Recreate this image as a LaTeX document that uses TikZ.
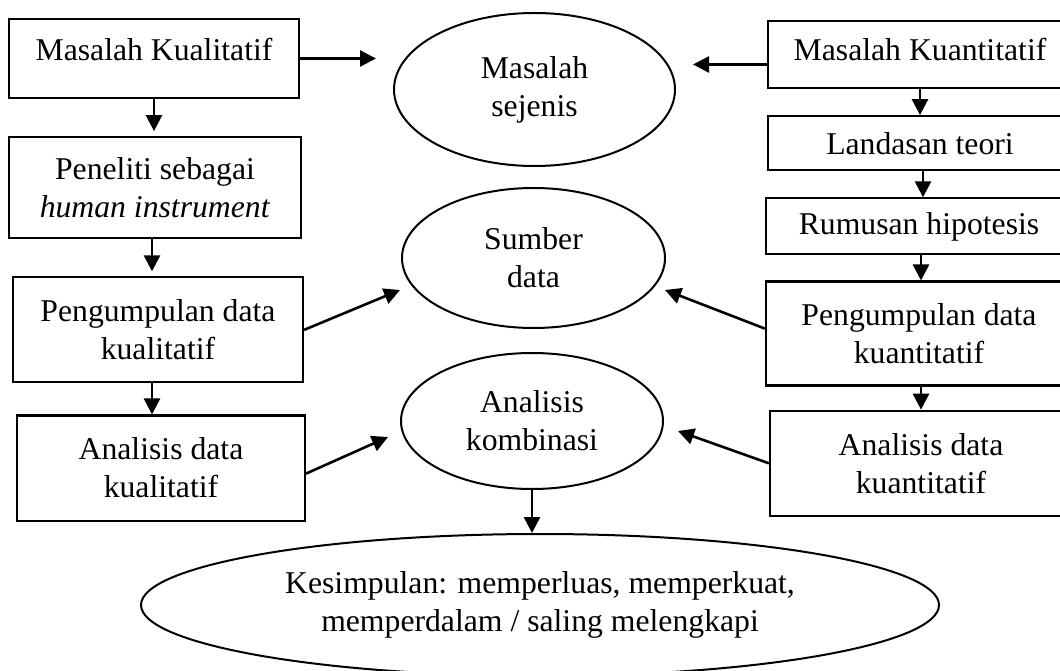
\documentclass[tikz,border=0pt]{standalone}
\usepackage{fontspec}
\setmainfont{Liberation Serif}
\usetikzlibrary{positioning,arrows.meta,shapes.geometric}
\tikzset{
  blk/.style ={draw, rectangle, line width=2.2pt, align=center, inner sep=0pt, font=\fontsize{31.7}{38}\selectfont},
  oval/.style={draw, ellipse, line width=2pt, align=center, inner sep=0pt, font=\fontsize{31.7}{38}\selectfont},
  arr/.style ={-{Triangle[length=16pt,width=16pt]}, line width=2.6pt},
}

\begin{document}
\begin{tikzpicture}[x=1pt,y=1pt]
  \path[use as bounding box, clip] (0,0) rectangle (1060,670);

  % kualitatif
  \node[blk, minimum width=290pt, minimum height=79pt, text depth=19pt] (mkual) at (154,611.5) {Masalah Kualitatif};
  \node[blk, minimum width=292pt, minimum height=101pt, below=37pt of mkual, xshift=1pt] (pen) {Peneliti sebagai\\\textit{human instrument}};
  \node[blk, minimum width=290pt, minimum height=105pt, below=37pt of pen, xshift=3pt] (kum) {Pengumpulan data\\kualitatif};
  \node[blk, minimum width=288pt, minimum height=105pt, below=31pt of kum, xshift=3pt] (anl) {Analisis data\\kualitatif};

  % kuantitatif
  \node[blk, minimum width=304pt, minimum height=67pt, text depth=11pt] (mkuan) at (920,615.5) {Masalah Kuantitatif};
  \node[blk, minimum width=304pt, minimum height=54pt, below=26pt of mkuan] (land) {Landasan teori};
  \node[blk, minimum width=306pt, minimum height=56pt, below=26pt of land, xshift=-1pt] (rum) {Rumusan hipotesis};
  \node[blk, minimum width=306pt, minimum height=104pt, below=25pt of rum] (kumq) {Pengumpulan data\\kuantitatif};
  \node[blk, minimum width=302pt, minimum height=105pt, below=23pt of kumq, xshift=2pt] (anq) {Analisis data\\kuantitatif};

  % tengah
  \node[oval, minimum width=281pt, minimum height=153pt] (msj) at (534.5,580.5) {Masalah\\sejenis};
  \node[oval, minimum width=263pt, minimum height=140pt] (sd)  at (533.5,412) {Sumber\\data};
  \node[oval, minimum width=262pt, minimum height=136pt] (ak)  at (532,249) {Analisis\\kombinasi};
  \node[oval, minimum width=798pt, minimum height=142pt] (kes) at (540,65) {Kesimpulan: memperluas, memperkuat,\\memperdalam / saling melengkapi};

  \coordinate (sdL) at (400,380);
  \coordinate (akL) at (388,233);
  \coordinate (sdR) at (665,380);
  \coordinate (akR) at (678,239);

  \draw[arr, shorten >=5pt] (mkual.south) -- (mkual.south |- pen.north);
  \draw[arr, shorten >=5pt] ([xshift=-3pt]pen.south) -- ([xshift=-3pt]pen.south |- kum.north);
  \draw[arr] ([xshift=-6pt]kum.south) -- ([xshift=-6pt]kum.south |- anl.north);

  \draw[arr] (mkuan.south) -- (mkuan.south |- land.north);
  \draw[arr] ([xshift=3pt]land.south) -- ([xshift=3pt]land.south |- rum.north);
  \draw[arr] ([xshift=2pt]rum.south) -- ([xshift=2pt]rum.south |- kumq.north);
  \draw[arr] ([xshift=2pt]kumq.south) -- ([xshift=2pt]kumq.south |- anq.north);

  \draw[arr, shorten >=17pt] (mkual.east) -- (mkual.east -| msj.west);
  \draw[arr, shorten >=17pt] ([yshift=-10pt]mkuan.west) -- ([yshift=-10pt]mkuan.west -| msj.east);
  \draw[arr] (kum.east) -- (sdL);
  \draw[arr] ([yshift=-5.5pt]anl.east) -- (akL);
  \draw[arr] ([yshift=5pt]kumq.west) -- (sdR);
  \draw[arr] (anq.west) -- (akR);
  \draw[arr] (ak.south) -- (ak.south |- kes.north);
\end{tikzpicture}
\end{document}
